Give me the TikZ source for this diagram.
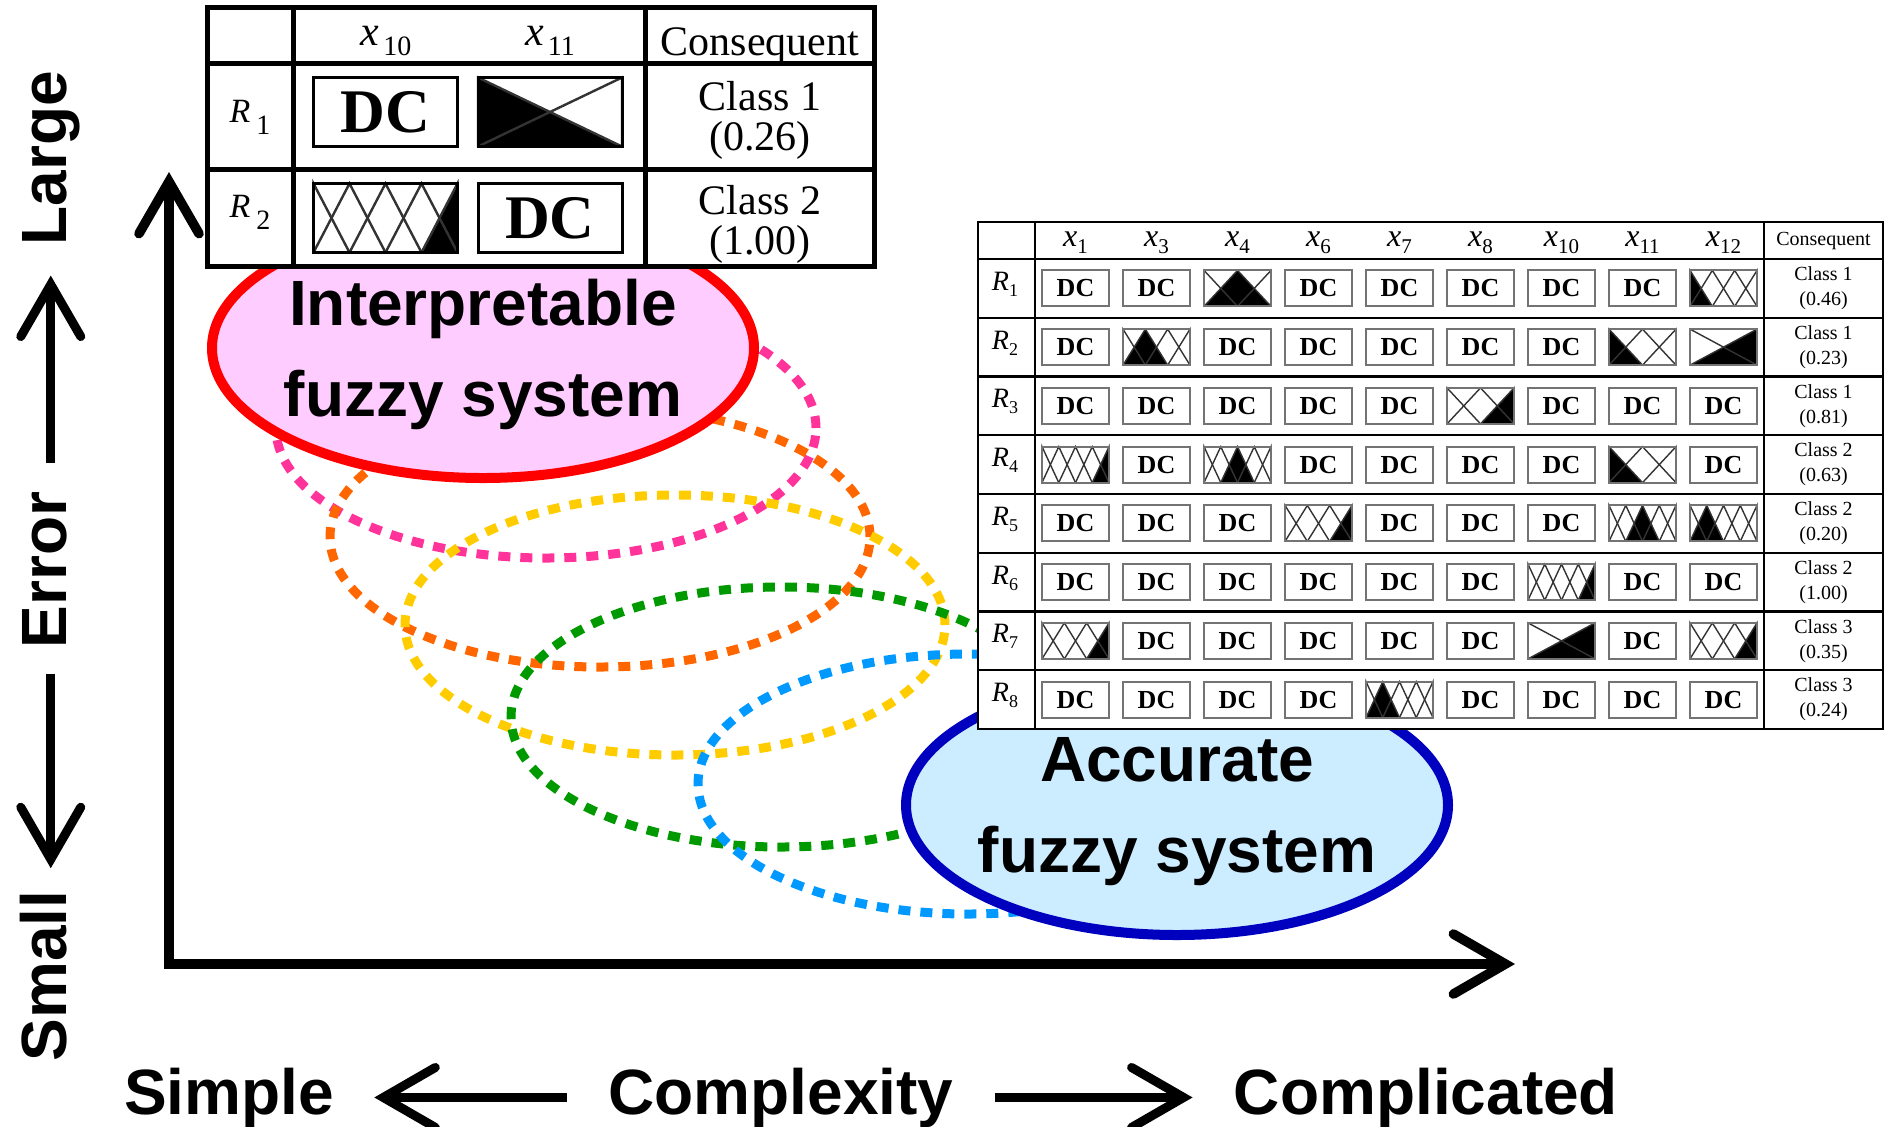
\documentclass[tikz,border=0pt]{standalone}
\usepackage{fontspec}
\setmainfont{Liberation Serif}
\newfontfamily\labelfont{Liberation Sans}
\usetikzlibrary{shapes.geometric,arrows.meta}

\definecolor{pinkfill}{HTML}{FFCCFF}
\definecolor{redline}{HTML}{FF0000}
\definecolor{bluefill}{HTML}{CCECFF}
\definecolor{blueline}{HTML}{0000BF}
\definecolor{dotpink}{HTML}{FF3399}
\definecolor{dotorange}{HTML}{FF6600}
\definecolor{dotyellow}{HTML}{FFCC00}
\definecolor{dotgreen}{HTML}{009900}
\definecolor{dotblue}{HTML}{0099FF}

\newcommand\setsize[2]{\fontsize{#1pt}{#2pt}\selectfont}
% variable and rule labels with lowered indices
\newcommand\hdrvar[1]{{\setsize{16}{18}\textit{x}}\raisebox{-3.5pt}{\setsize{10.5}{12}#1}}
\newcommand\rulelab[1]{{\setsize{14}{16}\textit{R}}\raisebox{-3pt}{\setsize{9}{10}#1}}
\newcommand\bighdrvar[1]{{\setsize{21}{24}\textit{x}}\hspace{2pt}\raisebox{-5pt}{\setsize{14}{16}#1}}
\newcommand\bigrulelab[1]{{\setsize{17}{20}\textit{R}}\hspace{3pt}\raisebox{-6pt}{\setsize{14}{16}#1}}

% triangular fuzzy partition: centre (#1,#2), size #3 x #4,
% #5 linguistic terms, term #6 filled, line width #7
\newcommand\partglyph[7]{%
  \begin{scope}[shift={({#1-#3/2},{#2+#4/2})},xscale=#3,yscale=-#4]
    \pgfmathsetmacro\mfS{1/(#5-1)}
    \pgfmathsetmacro\mfP{(#6-1)*\mfS}
    \pgfmathsetmacro\mfL{max(\mfP-\mfS,0)}
    \pgfmathsetmacro\mfR{min(\mfP+\mfS,1)}
    \fill[black] (\mfL,0) -- (\mfP,1) -- (\mfR,0) -- cycle;
    \foreach \j in {1,...,#5}{%
      \pgfmathsetmacro\mfQ{(\j-1)*\mfS}
      \pgfmathsetmacro\mfQL{max(\mfQ-\mfS,0)}
      \pgfmathsetmacro\mfQR{min(\mfQ+\mfS,1)}
      \draw[line width=#7,black!80] (\mfQL,0) -- (\mfQ,1) -- (\mfQR,0);
    }
  \end{scope}}

% one rule of the large rule table: #1 rule index, #2 list of terms/filled (0/0 = DC)
\newcommand\rulerow[2]{%
  \foreach \mfn/\mfk [count=\col from 0] in {#2}{%
    \pgfmathsetmacro\cellx{1075.5+81*\col}
    \pgfmathsetmacro\celly{259+58.75*(#1-0.5)}
    \ifnum\mfn=0
      \node[rdc] (c#1-\col) at (\cellx,\celly) {DC};
    \else
      \partglyph{\cellx}{\celly}{67}{36}{\mfn}{\mfk}{0.7pt}
      \node[rbox] (c#1-\col) at (\cellx,\celly) {};
    \fi
  }}

\tikzset{
  rbox/.style={draw=black!55, line width=0.9pt, minimum width=33.5pt, minimum height=18pt, inner sep=0pt, outer sep=0pt},
  rdc/.style={rbox, font=\bfseries\setsize{13}{15}},
  tbox/.style={draw=black, line width=1.5pt, minimum width=72pt, minimum height=34.5pt, inner sep=0pt, outer sep=0pt},
  tdc/.style={tbox, font=\bfseries\setsize{31}{36}},
  dotell/.style={line width=4.5pt, dash pattern=on 6pt off 5pt},
  solidell/.style={ellipse, line width=5pt, minimum width=271pt, minimum height=130pt, inner sep=0pt},
  elltext/.style={font=\labelfont\bfseries\setsize{32}{45.5}, align=center, inner sep=0pt},
  bigword/.style={font=\labelfont\bfseries\setsize{32}{38}, inner sep=0pt},
  barb/.tip={Straight Barb[length=26pt,width=30pt,line cap=round,line join=miter]},
  pointer/.style={line width=4.5pt, -barb},
  axisline/.style={line width=4.8pt, line join=miter, barb-barb},
}

\begin{document}
\begin{tikzpicture}[x=0.5pt,y=-0.5pt]
\useasboundingbox (0,0) rectangle (1890,1126);

% ---- path of intermediate fuzzy systems ----
\draw[dotell, dotpink]   (546,428) ellipse [x radius=135pt, y radius=65pt];
\draw[dotell, dotorange] (600,537) ellipse [x radius=135pt, y radius=65pt];
\draw[dotell, dotyellow] (675,625) ellipse [x radius=135pt, y radius=65pt];
\draw[dotell, dotgreen]  (781,717) ellipse [x radius=135pt, y radius=65pt];
\draw[dotell, dotblue]   (968,784) ellipse [x radius=135pt, y radius=65pt];

% ---- the two end points ----
\node[solidell, draw=redline, fill=pinkfill] (interp) at (483,348) {};
\node[elltext] (interptext) at (483,354) {Interpretable\\fuzzy system};
\node[solidell, draw=blueline, fill=bluefill] (accur) at (1177,805) {};
\node[elltext] (accurtext) at (1177,812) {Accurate\\fuzzy system};

% ---- small rule table ----
\fill[white] (207,7) rectangle (874,266);
\draw[line width=2.5pt] (207,7) rectangle (874,266);
\draw[line width=2.5pt] (207,63) -- (874,63) (207,169) -- (874,169)
                        (293,7) -- (293,266) (645,7) -- (645,266);
\node[anchor=base, inner sep=0pt] (tx10) at (386,45) {\bighdrvar{10}};
\node[anchor=base, inner sep=0pt] (tx11) at (550,45) {\bighdrvar{11}};
\node[anchor=base, inner sep=0pt, font=\setsize{21}{24}] (tcons) at (760,55) {Consequent};
\node[anchor=base, inner sep=0pt] (tr1) at (250,122) {\bigrulelab{1}};
\node[anchor=base, inner sep=0pt] (tr2) at (250,217) {\bigrulelab{2}};
\node[tdc] (t1a) at (385.5,112) {DC};
\partglyph{550}{112}{144}{69}{2}{1}{1.2pt}
\node[tbox] (t1b) at (550,112) {};
\partglyph{385.5}{218}{144}{69}{5}{5}{1.2pt}
\node[tbox] (t2a) at (385.5,218) {};
\node[tdc] (t2b) at (550,218) {DC};
\node[align=center, inner sep=0pt, font=\setsize{21}{20}] (tc1) at (760,120) {Class 1\\(0.26)};
\node[align=center, inner sep=0pt, font=\setsize{21}{20}] (tc2) at (760,224) {Class 2\\(1.00)};

% ---- large rule table ----
\fill[white] (978,222) rectangle (1883,729);
\draw[line width=1.1pt] (978,222) rectangle (1883,729);
\foreach \yy in {259,317.75,376.5,435.25,494,552.75,611.5,670.25}
  \draw[line width=1.1pt] (978,\yy) -- (1883,\yy);
\draw[line width=1.1pt] (1035,222) -- (1035,729) (1764,222) -- (1764,729);
\foreach \v [count=\col from 0] in {1,3,4,6,7,8,10,11,12}
  \node[anchor=base, inner sep=0pt] (h\v) at ({1075.5+81*\col},246) {\hdrvar{\v}};
\node[anchor=base, inner sep=0pt, font=\setsize{10}{12}] (hcons) at (1823.5,245) {Consequent};
\foreach \r in {1,...,8}
  \node[anchor=base, inner sep=0pt] (rl\r) at (1005,{259+58.75*(\r-0.5)+2}) {\rulelab{\r}};
\foreach \cls/\val [count=\r] in {1/0.46,1/0.23,1/0.81,2/0.63,2/0.20,2/1.00,3/0.35,3/0.24}
  \node[align=center, inner sep=0pt, font=\setsize{10}{12.5}] (cq\r) at (1823.5,{259+58.75*(\r-0.5)}) {Class \cls\\(\val)};

\rulerow{1}{0/0,0/0,3/2,0/0,0/0,0/0,0/0,0/0,4/1}
\rulerow{2}{0/0,4/2,0/0,0/0,0/0,0/0,0/0,3/1,2/2}
\rulerow{3}{0/0,0/0,0/0,0/0,0/0,3/3,0/0,0/0,0/0}
\rulerow{4}{5/5,0/0,5/3,0/0,0/0,0/0,0/0,3/1,0/0}
\rulerow{5}{0/0,0/0,0/0,4/4,0/0,0/0,0/0,5/3,5/2}
\rulerow{6}{0/0,0/0,0/0,0/0,0/0,0/0,5/5,0/0,0/0}
\rulerow{7}{4/4,0/0,0/0,0/0,0/0,0/0,2/2,0/0,4/4}
\rulerow{8}{0/0,0/0,0/0,0/0,5/2,0/0,0/0,0/0,0/0}

% ---- axes ----
\coordinate (origin) at (169,964);
\coordinate (ytip) at (169,172);
\coordinate (xtip) at (1515,964);
\draw[axisline] (ytip) -- (origin) -- (xtip);

% ---- axis captions ----
\node[bigword, rotate=90, anchor=base] (large) at (66,158) {Large};
\node[bigword, rotate=90, anchor=base] (error) at (66,570) {Error};
\node[bigword, rotate=90, anchor=base] (small) at (66,976) {Small};
\draw[pointer, shorten <=14pt, shorten >=15pt] (large.west |- error.east) -- (large.west);
\draw[pointer, shorten <=12.5pt, shorten >=11pt] (large.west |- error.west) -- (large.west |- small.east);

\node[bigword, anchor=base] (simple) at (229,1114) {Simple};
\node[bigword, anchor=base] (cplx) at (781,1114) {Complexity};
\node[bigword, anchor=base] (cmpl) at (1426,1114) {Complicated};
\draw[pointer, shorten <=20.5pt, shorten >=20pt] (cplx.west) -- (simple.east);
\draw[pointer, shorten <=20.5pt, shorten >=20.5pt] (cplx.east) -- (cmpl.west);
\end{tikzpicture}
\end{document}
